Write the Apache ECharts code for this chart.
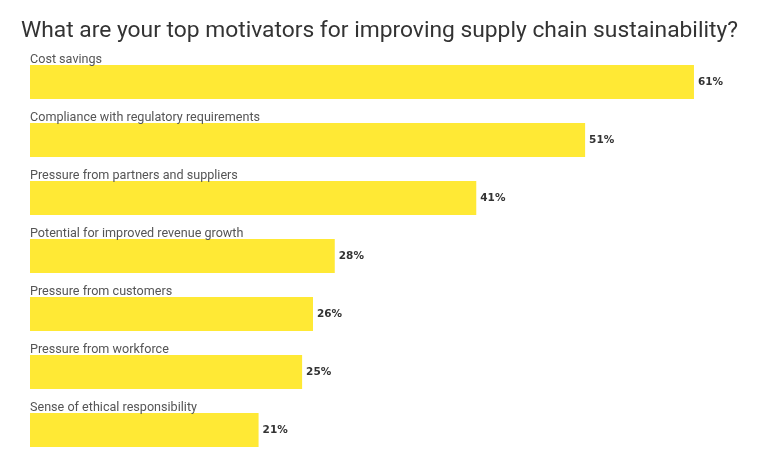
<!DOCTYPE html>
<html><head><meta charset="utf-8">
<script src="https://cdn.jsdelivr.net/npm/echarts@6/dist/echarts.min.js"></script>
<style>html,body{margin:0;padding:0;background:#fff}#c{width:777px;height:468px}</style>
</head><body><div id="c"></div>
<script>
const titleText = 'What are your top motivators for improving supply chain sustainability?';
const categories = ['Cost savings','Compliance with regulatory requirements','Pressure from partners and suppliers','Potential for improved revenue growth','Pressure from customers','Pressure from workforce','Sense of ethical responsibility'];
const values = [61, 51, 41, 28, 26, 25, 21];

const chart = echarts.init(document.getElementById('c'));
chart.setOption({
  animation: false,
  backgroundColor: '#fff',
  title: {
    text: titleText, left: 16, top: 15,
    textStyle: {fontFamily: 'Roboto', fontSize: 22.8, fontWeight: 'normal', color: '#333'}
  },
  grid: {left: 30, right: 39.5, top: 53, bottom: 9, containLabel: false},
  xAxis: {type: 'value', min: 0, max: 65, show: false},
  yAxis: {type: 'category', data: categories, inverse: true, show: false},
  series: [
    {
      type: 'bar', data: values, barWidth: 34,
      itemStyle: {color: '#FFE935'},
      label: {show: true, position: 'right', distance: 4, formatter: '{c}%',
        fontFamily: 'Verdana, DejaVu Sans', fontSize: 10.5, fontWeight: 'bold', color: '#333'}
    },
    {
      type: 'bar', data: values, barWidth: 34, barGap: '-100%', silent: true,
      itemStyle: {color: 'rgba(0,0,0,0)'},
      label: {show: true, position: [0, -12], formatter: '{b}',
        fontFamily: 'Roboto', fontSize: 12.6, color: '#555'}
    }
  ]
});
</script></body></html>
